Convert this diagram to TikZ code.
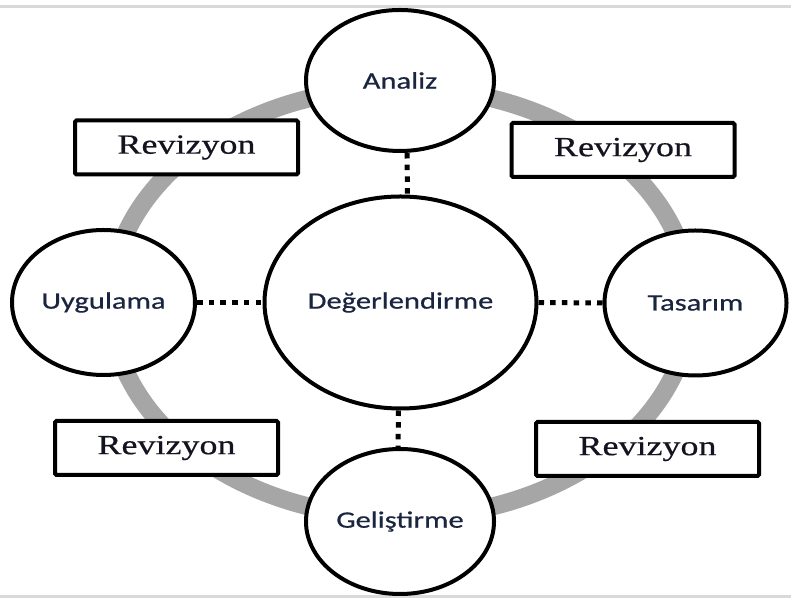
\documentclass[tikz,border=0pt]{standalone}
\usepackage{fontspec}
\usetikzlibrary{shapes.geometric}
\newfontfamily\labfont[FakeStretch=1.3,FakeBold=0.6]{Carlito}
\newfontfamily\revfont[FakeStretch=1.3,FakeBold=0.5]{Liberation Serif}
\definecolor{ringgray}{HTML}{A6A6A6}
\definecolor{framegray}{HTML}{D9D9D9}
\definecolor{labcol}{HTML}{1A2540}
\definecolor{revcol}{HTML}{141420}
\tikzset{
  x=1pt, y=1pt,
  phase/.style={ellipse, draw=black, line width=4pt, fill=white, inner sep=0pt,
    font=\labfont\fontsize{23.5}{26}\selectfont, text=labcol},
  revbox/.style={rectangle, draw=black, line width=4pt, fill=white, rounded corners=1.5pt,
    minimum width=223pt, minimum height=54pt, inner sep=0pt,
    font=\revfont\fontsize{27.7}{30}\selectfont, text=revcol},
  dots/.style={line width=5pt, dash pattern=on 5.5pt off 6.2pt},
  frameline/.style={line width=3pt, draw=framegray}
}
\begin{document}
\begin{tikzpicture}
\useasboundingbox (0,0) rectangle (791,601);
\fill[white] (0,0) rectangle (791,601);
% frame lines
\draw[frameline] (0,594) -- (791,594);
\draw[frameline] (0,4) -- (791,4);
% grey ring
\draw[line width=18pt, draw=ringgray] (400.5,298.5) ellipse [x radius=290, y radius=215];
% boxes
\node[revbox] (r1) at (186.5,453.5) {Revizyon};
\node[revbox] (r2) at (623,451) {Revizyon};
\node[revbox] (r3) at (166.5,153) {Revizyon};
\node[revbox] (r4) at (647.5,152) {Revizyon};
% phases
\node[phase, minimum width=272pt, minimum height=212pt] (deg) at (400.5,298.5) {Değerlendirme};
\node[phase, minimum width=188pt, minimum height=141pt] (ana) at (400,520.5) {Analiz};
\node[phase, minimum width=183pt, minimum height=145pt] (uyg) at (103.5,298.5) {Uygulama};
\node[phase, minimum width=182pt, minimum height=145pt] (tas) at (695.5,298) {Tasarım};
\node[phase, minimum width=188pt, minimum height=145pt] (gel) at (400,79.5) {Geliştirme};
% dotted connectors
\draw[dots] ([xshift=7pt]ana.south) -- ([xshift=7pt]deg.north);
\draw[dots] ([xshift=-2pt]deg.south) -- ([xshift=-2pt]gel.north);
\draw[dots] (uyg.east) -- (deg.west);
\draw[dots] (deg.east) -- (tas.west);
\end{tikzpicture}
\end{document}
